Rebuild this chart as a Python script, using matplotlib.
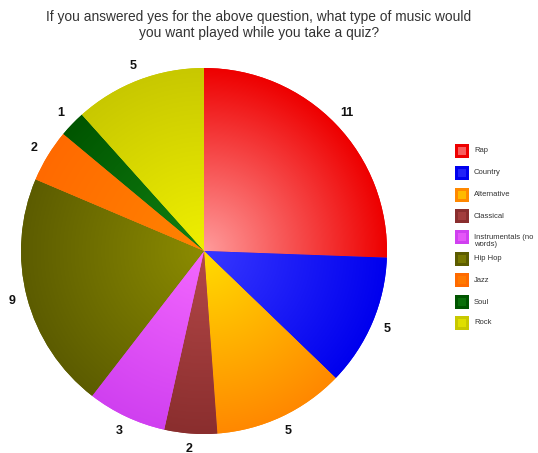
import matplotlib
matplotlib.use("Agg")
import matplotlib.pyplot as plt
import matplotlib.colors as mcolors
import numpy as np

# Survey answers
categories = ["Rap", "Country", "Alternative", "Classical", "Instrumentals (no\nwords)",
              "Hip Hop", "Jazz", "Soul", "Rock"]
counts = [11, 5, 5, 2, 3, 9, 2, 1, 5]

# colours: edge colour and lighter centre colour for the radial shading
edge_colors = ["#ee0000", "#0000ee", "#ff8800", "#8a2e2e", "#d040f0",
               "#5c5c00", "#ff6a00", "#005500", "#c8c800"]
center_colors = ["#ff9c9c", "#3838ff", "#ffdd00", "#b44848", "#f468ff",
                 "#8c8c00", "#ff8400", "#128212", "#f0f000"]

W, H = 538, 453
fig = plt.figure(figsize=(W / 100, H / 100), dpi=100)
ax = fig.add_axes([0, 0, 1, 1])

cx, cy, R = 204, H - 251, 183

wedges, texts = ax.pie(counts, radius=R, center=(cx, cy), startangle=90,
                       counterclock=False, colors=edge_colors,
                       labels=[str(c) for c in counts], labeldistance=1.085,
                       textprops=dict(fontsize=9, fontweight="bold",
                                      family="Liberation Sans", color="#111111"),
                       wedgeprops=dict(linewidth=0))
for t in texts:
    t.set_ha("center")
    t.set_va("center")

# radial gradient fill, clipped to each wedge
xs = np.linspace(cx - R, cx + R, 400)
ys = np.linspace(cy - R, cy + R, 400)
gx, gy = np.meshgrid(xs, ys)
dist = np.clip(np.hypot(gx - cx, gy - cy) / R, 0, 1)
for w, c0, c1 in zip(wedges, center_colors, edge_colors):
    a = np.array(mcolors.to_rgb(c0))
    b = np.array(mcolors.to_rgb(c1))
    img = a[None, None, :] * (1 - dist[..., None]) + b[None, None, :] * dist[..., None]
    im = ax.imshow(img, extent=(cx - R, cx + R, cy - R, cy + R), origin="lower",
                   interpolation="bilinear", zorder=2)
    im.set_clip_path(w)

ax.set_xlim(0, W)
ax.set_ylim(0, H)
ax.set_aspect("equal")
ax.axis("off")

fig.text(259 / W, 1 - 17 / H, "If you answered yes for the above question, what type of music would",
         ha="center", va="center", fontsize=9.9, family="Liberation Sans", color="#333333")
fig.text(259 / W, 1 - 33 / H, "you want played while you take a quiz?",
         ha="center", va="center", fontsize=9.9, family="Liberation Sans", color="#333333")

# legend drawn by hand
row_y = [151, 173, 195, 216, 237, 259, 280, 302, 323]
for name, c0, c1, yy in zip(categories, center_colors, edge_colors, row_y):
    ax.add_patch(plt.Rectangle((455, H - yy - 7), 14, 14, facecolor=c1,
                               edgecolor="none", zorder=3))
    ax.add_patch(plt.Rectangle((458, H - yy - 4), 8, 8, facecolor=c0,
                               edgecolor="none", alpha=0.6, zorder=4))
    ax.text(474, H - yy + (0 if "\n" not in name else -4), name, ha="left", va="center",
            fontsize=5.5, family="Liberation Sans", color="#333333", linespacing=1.1)

fig.savefig("out.png", dpi=100)
